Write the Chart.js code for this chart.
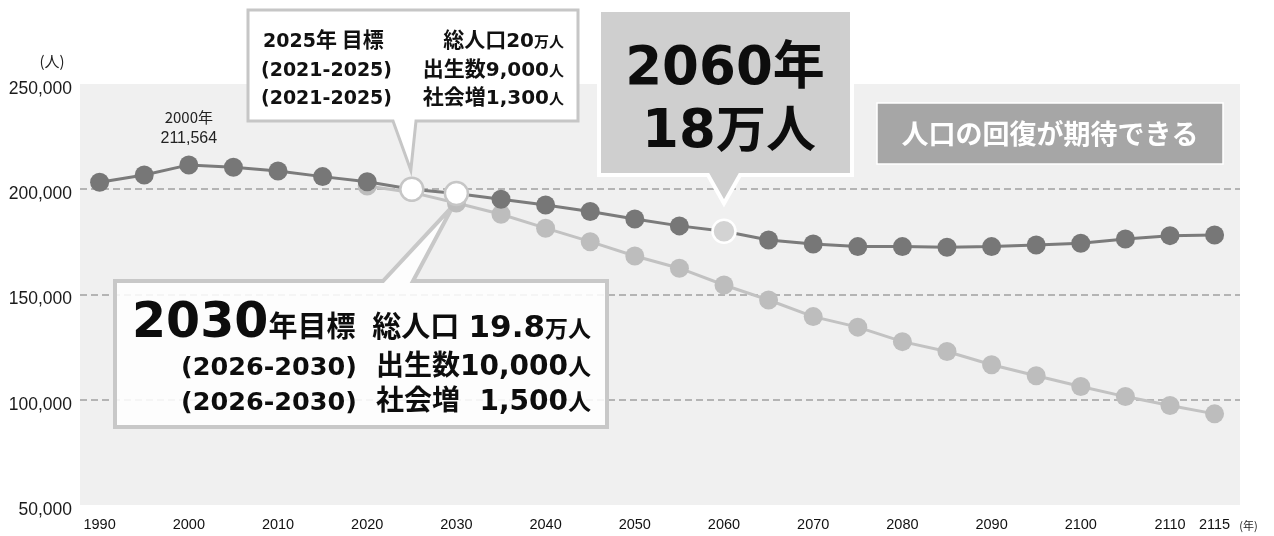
<!DOCTYPE html>
<html lang="ja">
<head>
<meta charset="utf-8">
<title>人口の将来展望</title>
<script src="https://cdn.jsdelivr.net/npm/chart.js@4/dist/chart.umd.min.js"></script>
<style>
  html, body { margin: 0; padding: 0; background: #fff; }
  canvas { display: block; }
</style>
</head>
<body>
<canvas id="chart" width="1274" height="536"></canvas>
<script>
// 年次
const years = [1990, 1995, 2000, 2005, 2010, 2015, 2020, 2025, 2030, 2035, 2040, 2045, 2050,
  2055, 2060, 2065, 2070, 2075, 2080, 2085, 2090, 2095, 2100, 2105, 2110, 2115];
// 目標人口（人口の回復が期待できるケース）
const targetPop = [203300, 206800, 211564, 210450, 208700, 206000, 203600, 200000, 198000,
  195250, 192550, 189400, 185900, 182600, 180000, 175900, 174000, 172750, 172750, 172450,
  172750, 173550, 174350, 176400, 177960, 178300];
// 推計人口（対策なし）
const projYears = [2020, 2025, 2030, 2035, 2040, 2045, 2050, 2055, 2060, 2065, 2070, 2075,
  2080, 2085, 2090, 2095, 2100, 2105, 2110, 2115];
const projPop = [201500, 198500, 193500, 188100, 181500, 175100, 168300, 162500, 154500,
  147400, 139500, 134500, 127600, 122900, 116600, 111400, 106300, 101500, 97300, 93300];
// 目盛
const xTickValues = [1990, 2000, 2010, 2020, 2030, 2040, 2050, 2060, 2070, 2080, 2090, 2100, 2110, 2115];
const yTickValues = [50000, 100000, 150000, 200000, 250000];
const yGridValues = [100000, 150000, 200000];
// 強調する年
const whiteYears = [2025, 2030];
const highlightYear = 2060;
const peakYear = 2000;

const JP = "'Noto Sans CJK JP', sans-serif";
const NUM = "'DejaVu Sans', 'Noto Sans CJK JP', sans-serif";
const AXIS = "'Liberation Sans', 'Noto Sans CJK JP', sans-serif";

function fmt(v) {
  return v.toLocaleString("en-US");
}

function drawRuns(ctx, parts, x, y, align) {
  let w = 0;
  parts.forEach((p) => { ctx.font = p[1]; w += ctx.measureText(p[0]).width; });
  let cx = align === "right" ? x - w : align === "center" ? x - w / 2 : x;
  ctx.textAlign = "left";
  parts.forEach((p) => {
    ctx.font = p[1];
    ctx.fillText(p[0], cx, y);
    cx += ctx.measureText(p[0]).width;
  });
}

function calloutDown(ctx, l, t, r, b, b1, b2, tx, ty) {
  ctx.beginPath();
  ctx.moveTo(l, t);
  ctx.lineTo(r, t);
  ctx.lineTo(r, b);
  ctx.lineTo(b2, b);
  ctx.lineTo(tx, ty);
  ctx.lineTo(b1, b);
  ctx.lineTo(l, b);
  ctx.closePath();
}

function calloutUp(ctx, l, t, r, b, b1, b2, tx, ty) {
  ctx.beginPath();
  ctx.moveTo(l, t);
  ctx.lineTo(b1, t);
  ctx.lineTo(tx, ty);
  ctx.lineTo(b2, t);
  ctx.lineTo(r, t);
  ctx.lineTo(r, b);
  ctx.lineTo(l, b);
  ctx.closePath();
}

const plotBackground = {
  id: "plotBackground",
  beforeDraw(chart) {
    const { ctx, chartArea: a } = chart;
    ctx.save();
    ctx.fillStyle = "#f0f0f0";
    ctx.fillRect(a.left, a.top, a.right - a.left, a.bottom - a.top);
    ctx.restore();
  },
};

const annotations = {
  id: "annotations",
  beforeDatasetsDraw(chart) {
    const { ctx } = chart;
    const xs = chart.scales.x;
    const ys = chart.scales.y;
    const px = (yr) => xs.getPixelForValue(yr);
    const py = (v) => ys.getPixelForValue(v);
    const valAt = (yr) => targetPop[years.indexOf(yr)];

    ctx.save();
    ctx.textBaseline = "alphabetic";
    ctx.lineJoin = "miter";

    // 2025年 目標
    const t25x = px(2025), t25y = py(valAt(2025));
    calloutDown(ctx, 248, 10, 578, 121, 393, 416, t25x - 1, t25y - 19);
    ctx.fillStyle = "#ffffff";
    ctx.fill();
    ctx.strokeStyle = "#c6c6c6";
    ctx.lineWidth = 3;
    ctx.stroke();
    ctx.fillStyle = "#111";
    drawRuns(ctx, [["2025", `bold 19px ${NUM}`], ["年 目標", `bold 21px ${JP}`]], 263, 47, "left");
    drawRuns(ctx, [["総人口", `bold 21px ${JP}`], ["20", `bold 20px ${NUM}`], ["万人", `bold 15px ${JP}`]], 564, 47, "right");
    drawRuns(ctx, [["(2021-2025)", `bold 19px ${NUM}`]], 261, 76, "left");
    drawRuns(ctx, [["出生数", `bold 21px ${JP}`], ["9,000", `bold 20px ${NUM}`], ["人", `bold 15px ${JP}`]], 564, 76, "right");
    drawRuns(ctx, [["(2021-2025)", `bold 19px ${NUM}`]], 261, 104, "left");
    drawRuns(ctx, [["社会増", `bold 21px ${JP}`], ["1,300", `bold 20px ${NUM}`], ["人", `bold 15px ${JP}`]], 564, 104, "right");

    // 2060年 18万人
    const t60x = px(highlightYear), t60y = py(valAt(highlightYear));
    calloutDown(ctx, 599, 10, 852, 175, t60x - 16, t60x + 16, t60x, t60y - 28);
    ctx.fillStyle = "#cfcfcf";
    ctx.fill();
    ctx.strokeStyle = "#ffffff";
    ctx.lineWidth = 4;
    ctx.stroke();
    ctx.fillStyle = "#0d0d0d";
    drawRuns(ctx, [["2060", `bold 53px ${NUM}`], ["年", `bold 52px ${JP}`]], 725, 84, "center");
    drawRuns(ctx, [["18", `bold 53px ${NUM}`], ["万人", `bold 50px ${JP}`]], 729, 147, "center");

    // 人口の回復が期待できる
    ctx.fillStyle = "#a6a6a6";
    ctx.fillRect(877, 103, 346, 61);
    ctx.strokeStyle = "#ffffff";
    ctx.lineWidth = 1.5;
    ctx.strokeRect(877, 103, 346, 61);
    ctx.fillStyle = "#ffffff";
    ctx.textBaseline = "middle";
    drawRuns(ctx, [["人口の回復が期待できる", `bold 27px ${JP}`]], 1050, 134, "center");
    ctx.textBaseline = "alphabetic";

    // 2030年目標
    const t30x = px(2030), t30y = py(valAt(2030));
    calloutUp(ctx, 115, 281, 607, 427, 383, 413, t30x - 3, t30y + 12);
    ctx.fillStyle = "rgba(255,255,255,0.86)";
    ctx.fill();
    ctx.strokeStyle = "#c8c8c8";
    ctx.lineWidth = 4;
    ctx.stroke();
    ctx.fillStyle = "#0d0d0d";
    drawRuns(ctx, [["2030", `bold 49px ${NUM}`], ["年目標", `bold 29px ${JP}`]], 132, 337, "left");
    drawRuns(ctx, [["総人口", `bold 29px ${JP}`], ["\u2009\u200a19.8", `bold 31px ${NUM}`], ["万人", `bold 23px ${JP}`]], 591, 337, "right");
    drawRuns(ctx, [["(2026-2030)", `bold 25.5px ${NUM}`]], 181, 375, "left");
    drawRuns(ctx, [["出生数", `bold 28px ${JP}`], ["10,000", `bold 28px ${NUM}`], ["人", `bold 23px ${JP}`]], 591, 375, "right");
    drawRuns(ctx, [["(2026-2030)", `bold 25.5px ${NUM}`]], 181, 410, "left");
    drawRuns(ctx, [["社会増", `bold 28px ${JP}`], ["  1,500", `bold 28px ${NUM}`], ["人", `bold 23px ${JP}`]], 591, 410, "right");

    ctx.restore();
  },
  afterDraw(chart) {
    const { ctx } = chart;
    const xs = chart.scales.x;
    const ys = chart.scales.y;
    ctx.save();
    ctx.fillStyle = "#222";
    ctx.textAlign = "center";
    ctx.textBaseline = "middle";
    // ピーク値ラベル
    const peak = targetPop[years.indexOf(peakYear)];
    const lx = xs.getPixelForValue(peakYear);
    const ly = ys.getPixelForValue(peak);
    ctx.font = `15px ${JP}`;
    ctx.fillText(`${peakYear}年`, lx, ly - 48);
    ctx.font = `16px ${AXIS}`;
    ctx.fillText(fmt(peak), lx, ly - 26);
    // 単位
    ctx.font = `15px ${JP}`;
    ctx.fillText("(人)", 52, 61);
    ctx.font = `11px ${JP}`;
    ctx.fillText("(年)", xs.getPixelForValue(2115) + 34, 526);
    ctx.restore();
  },
};

function pointFill(ctx, base) {
  const yr = years[ctx.dataIndex];
  if (whiteYears.includes(yr)) return "#ffffff";
  if (yr === highlightYear) return "#d3d3d3";
  return base;
}

new Chart(document.getElementById("chart"), {
  type: "line",
  data: {
    datasets: [
      {
        label: "目標人口",
        data: years.map((y, i) => ({ x: y, y: targetPop[i] })),
        borderColor: "#7b7b7b",
        borderWidth: 3,
        pointBackgroundColor: (ctx) => pointFill(ctx, "#777777"),
        pointBorderColor: (ctx) => {
          const yr = years[ctx.dataIndex];
          if (whiteYears.includes(yr)) return "#c6c6c6";
          if (yr === highlightYear) return "#ffffff";
          return "#777777";
        },
        pointBorderWidth: (ctx) => {
          const yr = years[ctx.dataIndex];
          return whiteYears.includes(yr) || yr === highlightYear ? 2.5 : 0;
        },
        pointRadius: (ctx) => {
          const yr = years[ctx.dataIndex];
          return whiteYears.includes(yr) || yr === highlightYear ? 11.5 : 9.5;
        },
        tension: 0,
      },
      {
        label: "推計人口",
        data: projYears.map((y, i) => ({ x: y, y: projPop[i] })),
        borderColor: "#c2c2c2",
        borderWidth: 3,
        pointBackgroundColor: "#bdbdbd",
        pointBorderWidth: 0,
        pointRadius: 9.5,
        tension: 0,
      },
    ],
  },
  options: {
    responsive: false,
    animation: false,
    devicePixelRatio: 1,
    layout: { padding: { top: 84, right: 34, left: 0, bottom: 0 } },
    plugins: {
      legend: { display: false },
      tooltip: { enabled: false },
    },
    scales: {
      x: {
        type: "linear",
        min: 1987.8,
        max: 2117.85,
        afterBuildTicks: (scale) => {
          scale.ticks = xTickValues.map((v) => ({ value: v }));
        },
        afterFit: (scale) => {
          scale.height = 31;
        },
        grid: { display: false, drawTicks: false },
        border: { display: false },
        ticks: {
          autoSkip: false,
          maxRotation: 0,
          padding: 11,
          color: "#111",
          font: { family: AXIS, size: 14.5 },
          callback: (v) => String(v),
        },
      },
      y: {
        min: 50000,
        max: 250000,
        afterBuildTicks: (scale) => {
          scale.ticks = yTickValues.map((v) => ({ value: v }));
        },
        afterFit: (scale) => {
          scale.width = 80;
        },
        grid: {
          drawTicks: false,
          lineWidth: 2,
          color: (ctx) => (ctx.tick && yGridValues.includes(ctx.tick.value) ? "#b4b4b4" : "rgba(0,0,0,0)"),
        },
        border: { display: false, dash: [7, 4] },
        ticks: {
          padding: 8,
          labelOffset: 5,
          color: "#1a1a1a",
          font: { family: AXIS, size: 17.5 },
          callback: (v) => fmt(v),
        },
      },
    },
  },
  plugins: [plotBackground, annotations],
});
</script>
</body>
</html>
